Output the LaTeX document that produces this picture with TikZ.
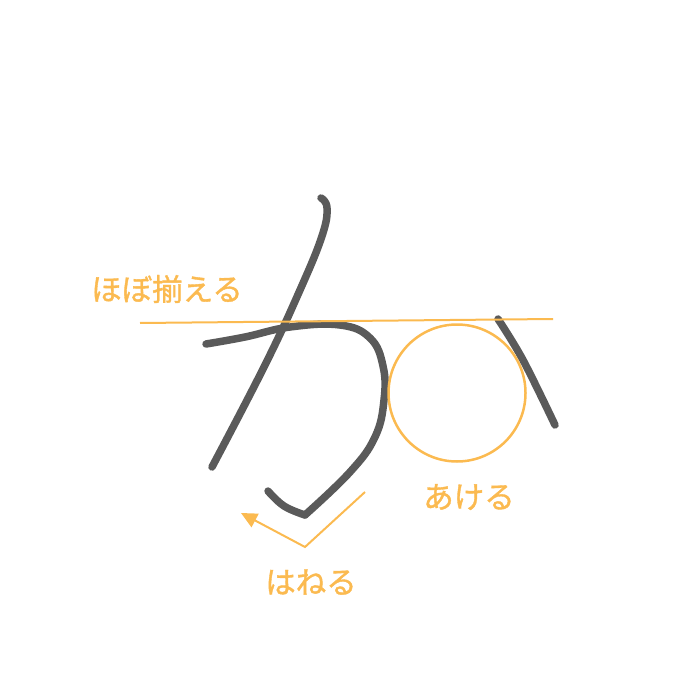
\documentclass[tikz,border=0pt]{standalone}
\usepackage{fontspec}
\newfontfamily\jp[FakeBold=1.2]{Noto Sans CJK JP}
\usetikzlibrary{arrows.meta}
\definecolor{guide}{HTML}{FBBA50}
\definecolor{ink}{HTML}{5A5A5A}
\tikzset{
  brush/.style={draw=ink, line width=7.5pt, line cap=round, line join=round},
  guideline/.style={draw=guide, line width=2pt},
  lbl/.style={text=guide, font=\jp\fontsize{30.5}{30.5}\selectfont, inner sep=0pt}
}
\begin{document}
\begin{tikzpicture}[x=1pt,y=-1pt]
\useasboundingbox (0,0) rectangle (700,700);
% brush strokes
\draw[brush] plot[smooth, tension=0.7] coordinates {(321,198) (327,208) (322,236) (300,290) (265,365) (212,467)};
\draw[brush] plot[smooth, tension=0.7] coordinates {(206,344) (245,337) (290,327) (340,325) (370,338) (383,366) (384,400) (375,437) (350,472) (305,515)};
\draw[brush] plot[smooth, tension=0.7] coordinates {(305,515) (284,506) (268,491)};
\draw[brush] plot[smooth, tension=0.6] coordinates {(498,319) (523,360) (555,425)};
% guides
\coordinate (gl) at (140,323);
\coordinate (gr) at (553,319);
\draw[guideline] (gl) -- (gr);
\node[draw=guide, line width=2.5pt, circle, minimum size=137pt, inner sep=0pt] (c) at (457,393) {};
\coordinate (h1) at (365,492);
\coordinate (h2) at (305,547);
\coordinate (h3) at (241,513);
\draw[guideline, -{Triangle[length=16pt,width=15pt]}] (h1) -- (h2) -- (h3);
% labels
\node[lbl] (t1) at (167,289) {ほぼ揃える};
\node[lbl] (t2) at (469,497) {あける};
\node[lbl] (t3) at (311,582) {はねる};
\end{tikzpicture}
\end{document}
